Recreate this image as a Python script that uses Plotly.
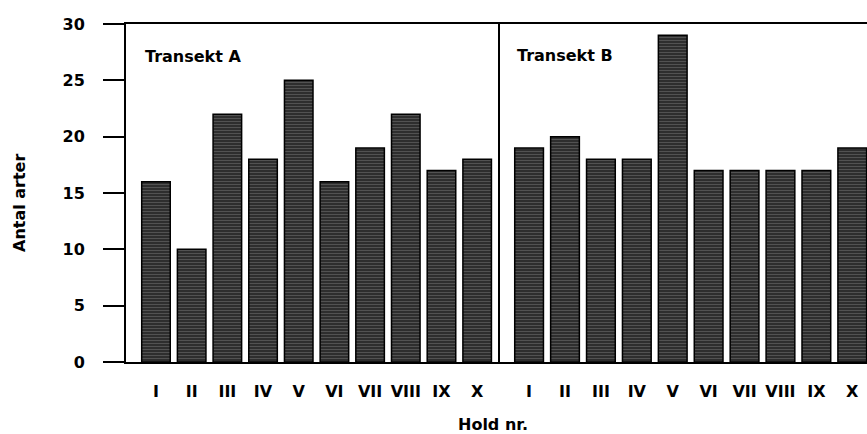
import plotly.graph_objects as go
from plotly.subplots import make_subplots

categories = ["I", "II", "III", "IV", "V", "VI", "VII", "VIII", "IX", "X"]
transekt_a = [16, 10, 22, 18, 25, 16, 19, 22, 17, 18]
transekt_b = [19, 20, 18, 18, 29, 17, 17, 17, 17, 19]
y_ticks = [0, 5, 10, 15, 20, 25, 30]

FONT = "DejaVu Sans"
W, H = 867, 434
L, R, T, B = 126, 0, 24, 72
PH = H - T - B
split = (500 - L) / (W - L - R)

fig = make_subplots(rows=1, cols=2, shared_yaxes=False, horizontal_spacing=0,
                    column_widths=[split, 1 - split])

bar_style = dict(
    color="#2e2e2e",
    line=dict(color="black", width=1.5),
    pattern=dict(shape="-", fgcolor="#8c8c8c", bgcolor="#2e2e2e", size=3, solidity=0.25),
)

fig.add_trace(go.Bar(x=categories, y=transekt_a, width=0.8, marker=bar_style,
                     showlegend=False, hoverinfo="skip"), row=1, col=1)
fig.add_trace(go.Bar(x=categories, y=transekt_b, width=0.8, marker=bar_style,
                     showlegend=False, hoverinfo="skip"), row=1, col=2)

tickfont = dict(family=FONT, size=16, color="black", weight="bold")
textfont = dict(family=FONT, size=16, color="black", weight="bold")

fig.update_xaxes(showgrid=False, zeroline=False, showline=True, linecolor="black",
                 linewidth=2, mirror=True, ticks="", tickfont=tickfont,
                 ticklabelstandoff=14)
fig.update_xaxes(range=[-0.84, 9.64], row=1, col=1)
fig.update_xaxes(range=[-0.81, 9.41], row=1, col=2)

fig.update_yaxes(range=[0, 30], showgrid=False, zeroline=False, showline=True,
                 linecolor="black", linewidth=2)
fig.update_yaxes(tickvals=y_ticks, ticks="outside", ticklen=21, tickwidth=2,
                 tickcolor="black", tickfont=tickfont, ticklabelstandoff=15,
                 row=1, col=1)
fig.update_yaxes(showticklabels=False, ticks="", row=1, col=2)

fig.add_annotation(text="Transekt A", xref="x", yref="y", x=-0.35, y=27.1,
                   xanchor="left", yanchor="middle", showarrow=False, font=textfont)
fig.add_annotation(text="Transekt B", xref="x2", yref="y2", x=-0.38, y=27.2,
                   xanchor="left", yanchor="middle", showarrow=False, font=textfont)
fig.add_annotation(text="Antal arter", xref="paper", yref="paper",
                   x=-(L - 20) / (W - L - R), y=(T + PH - 203) / PH,
                   textangle=-90, xanchor="center", yanchor="middle", showarrow=False,
                   font=textfont)
fig.add_annotation(text="Hold nr.", xref="paper", yref="paper",
                   x=(493 - L) / (W - L - R), y=-(424 - T - PH) / PH,
                   xanchor="center", yanchor="middle", showarrow=False, font=textfont)

fig.update_layout(width=W, height=H, margin=dict(l=L, r=R, t=T, b=B),
                  plot_bgcolor="white", paper_bgcolor="white", bargap=0.2)

fig.write_html("out.html", config={"displayModeBar": False},
               post_script="document.body.style.margin='0';document.body.style.overflow='hidden';")
